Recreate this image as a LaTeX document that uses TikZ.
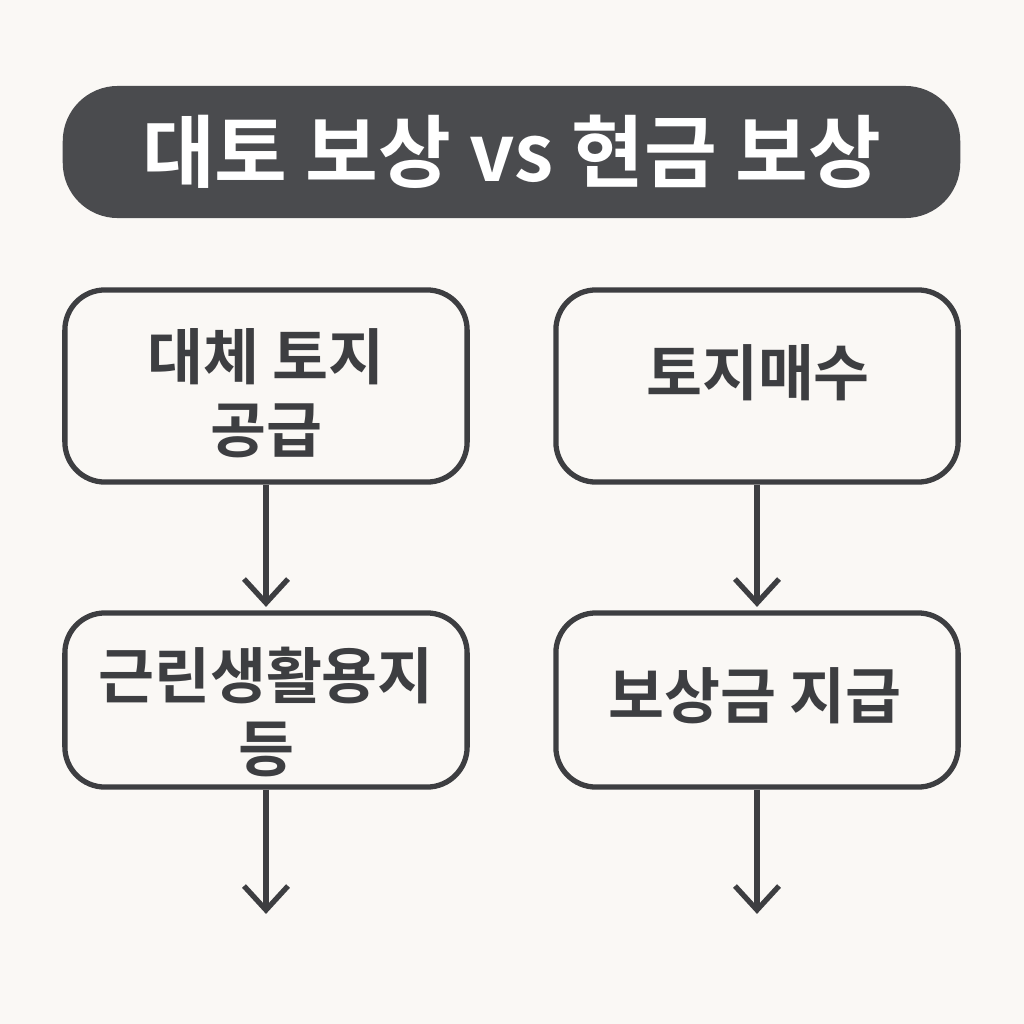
\documentclass[tikz,border=0pt]{standalone}
\usepackage{fontspec}
\usetikzlibrary{calc}
\newfontfamily\kr{Noto Sans CJK KR}[BoldFont={* Bold}]
\definecolor{bg}{HTML}{FAF8F5}
\definecolor{titlefill}{HTML}{4A4B4E}
\definecolor{ink}{HTML}{3D3E41}
\begin{document}
\begin{tikzpicture}[x=0.01cm,y=-0.01cm,
  stepbox/.style={draw=ink,line width=1.5pt,fill=bg,rounded corners=4mm,minimum width=4.02cm,inner sep=0pt},
  steptext/.style={text=ink,align=center,font=\kr\bfseries\fontsize{17.3}{20.8}\selectfont,inner sep=0pt},
  flow/.style={draw=ink,line width=1.5pt},
  chev/.style={draw=ink,line width=1.5pt,line cap=butt,line join=miter}]
\fill[bg] (0,0) rectangle (1024,1024);
\useasboundingbox (0,0) rectangle (1024,1024);
\node[fill=titlefill,rounded corners=5.5mm,minimum width=8.97cm,minimum height=1.32cm,inner sep=0pt,text=white,font=\kr\bfseries\fontsize{22.5}{26}\selectfont] (title) at (511.5,152) {대토 보상 vs 현금 보상};
\node[stepbox,minimum height=1.92cm] (a1) at (266,386) {};
\node[stepbox,minimum height=1.92cm] (b1) at (757,386) {};
\node[stepbox,minimum height=1.74cm] (a2) at (266,700) {};
\node[stepbox,minimum height=1.74cm] (b2) at (757,700) {};
\node[steptext] (a1t) at (266,393) {대체 토지\\공급};
\node[steptext] (b1t) at (758,373) {토지매수};
\node[steptext] (a2t) at (266,712) {근린생활용지\\등};
\node[steptext] (b2t) at (755,696) {보상금 지급};
\coordinate (a3) at (266,910);
\coordinate (b3) at (757,910);
\coordinate (a1e) at (266,603);
\coordinate (b1e) at (757,603);
\draw[flow] (a1.south) -- (a1e);
\draw[flow] (b1.south) -- (b1e);
\draw[flow] (a2.south) -- (a3);
\draw[flow] (b2.south) -- (b3);
\foreach \c in {a1e,b1e,a3,b3}{
  \draw[chev] ($(\c)+(-22,-24)$) -- (\c) -- ($(\c)+(22,-24)$);
}
\end{tikzpicture}
\end{document}
